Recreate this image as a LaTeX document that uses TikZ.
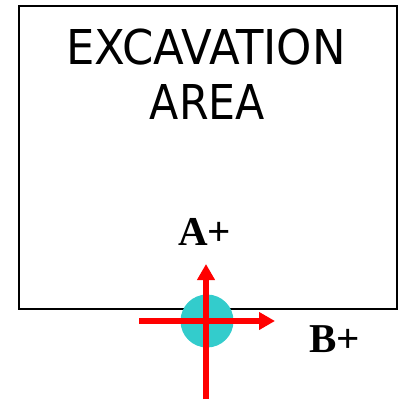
\documentclass[tikz,border=0pt]{standalone}
\usepackage{fontspec}
\setmainfont{Liberation Serif}
\newfontfamily\tahfont{DejaVu Sans}
\usetikzlibrary{arrows.meta}
\definecolor{pincyan}{HTML}{33CCCC}
\definecolor{axisred}{HTML}{FF0000}
\tikzset{
  areabox/.style={draw=black, line width=2pt},
  titletext/.style={anchor=base, inner sep=0pt, font=\tahfont\fontsize{48}{55}\selectfont},
  axislabel/.style={anchor=base, inner sep=0pt, font=\bfseries\fontsize{41}{48}\selectfont},
  axisarrow/.style={draw=axisred, line width=5.5pt, -{Triangle[length=16pt,width=17pt]}},
  pin/.style={circle, fill=pincyan, minimum size=53pt, inner sep=0pt}
}
\begin{document}
\begin{tikzpicture}[x=1pt,y=-1pt]
\useasboundingbox (0,0) rectangle (404,401);
\node[areabox, minimum width=378pt, minimum height=303pt, inner sep=0pt, anchor=north west] (area) at (18,5) {};
\node[titletext] (t1) at (206,65) {\scalebox{0.935}[1]{EXCAVATION}};
\node[titletext] (t2) at (207.5,120) {\scalebox{0.89}[1]{AREA}};
\node[pin] (pin) at (207,321) {};
\coordinate (vbot) at (206,399);
\coordinate (vtop) at (206,264);
\coordinate (hleft) at (139,321);
\coordinate (hright) at (275,321);
\draw[axisarrow] (vbot) -- (vtop);
\draw[axisarrow] (hleft) -- (hright);
\node[axislabel] (la) at (204.5,245) {A+};
\node[axislabel] (lb) at (334.5,352) {B+};
\end{tikzpicture}
\end{document}
